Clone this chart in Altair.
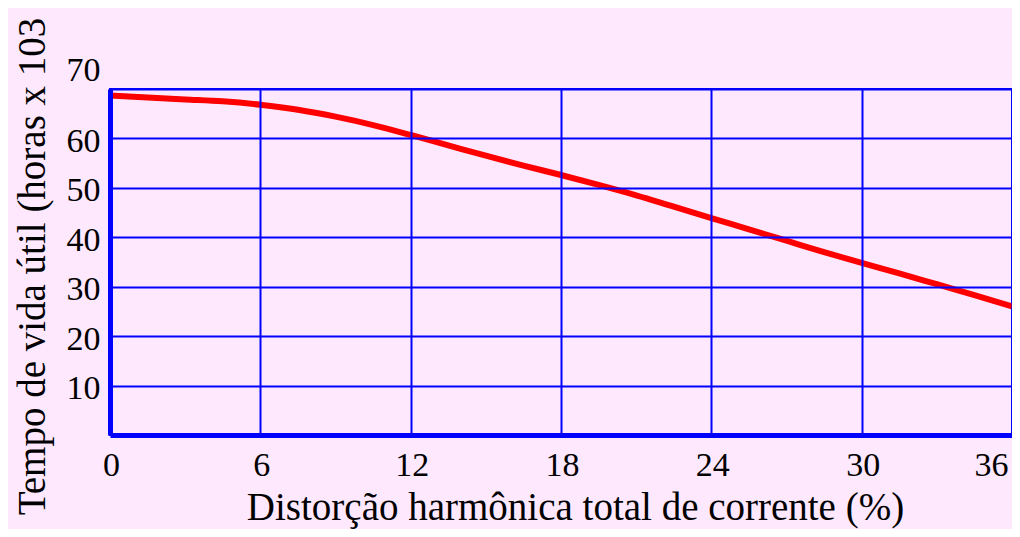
import altair as alt
import pandas as pd

# Distorção harmônica total de corrente (%)
thd = [0, 1.5, 3, 4.5, 6, 7.5, 9, 10.5, 12, 13.5, 15, 16.5, 18, 19.5, 21,
       22.5, 24, 25.5, 27, 28.5, 30, 31.5, 33, 34.5, 36]
# Tempo de vida útil (horas x 10^3)
vida = [68.7, 68.3, 67.9, 67.5, 66.8, 65.8, 64.4, 62.7, 60.7, 58.6, 56.5,
        54.5, 52.6, 50.6, 48.5, 46.2, 43.9, 41.6, 39.3, 37.0, 34.8, 32.7,
        30.5, 28.3, 26.0]

x_ticks = [0, 6, 12, 18, 24, 30, 36]
y_ticks = [10, 20, 30, 40, 50, 60, 70]

x_title = "Distorção harmônica total de corrente (%)"
y_title = "Tempo de vida útil (horas x 103"

df = pd.DataFrame({"thd": thd, "vida": vida})

BLUE = "#0000FF"
FONT = "Liberation Serif"

chart = alt.Chart(df).mark_line(
    color="#FF0000", strokeWidth=6, interpolate="monotone"
).encode(
    x=alt.X(
        "thd:Q",
        scale=alt.Scale(domain=[0, 36], nice=False, zero=False),
        axis=alt.Axis(
            values=x_ticks,
            title=x_title,
            titleFont=FONT,
            titleFontSize=39,
            titleFontWeight="normal",
            titleColor="#000000",
            titleX=465,
            titleY=84,
            titleAlign="center",
            titleBaseline="alphabetic",
            labelFont=FONT,
            labelFontSize=34,
            labelColor="#000000",
            labelBaseline="middle",
            labelPadding=30,
            labelFlush=False,
            labelOverlap=False,
            labelOffset={"condition": {"test": "datum.value == 36", "value": -21}, "value": 1},
            ticks=False,
            tickSize=0,
            domainColor=BLUE,
            domainWidth=5,
            grid=True,
            gridColor=BLUE,
            gridWidth=2,
            gridOpacity=1,
            zindex=1,
        ),
    ),
    y=alt.Y(
        "vida:Q",
        scale=alt.Scale(domain=[0, 70], nice=False),
        axis=alt.Axis(
            values=y_ticks,
            title=y_title,
            titleFont=FONT,
            titleFontSize=39,
            titleFontWeight="normal",
            titleColor="#000000",
            titleAngle=270,
            titleX=-66,
            titleY=177,
            titleAlign="center",
            titleBaseline="alphabetic",
            labelFont=FONT,
            labelFontSize=34,
            labelColor="#000000",
            labelBaseline="middle",
            labelPadding=10,
            labelFlush=False,
            labelOverlap=False,
            labelOffset={"condition": {"test": "datum.value == 70", "value": -19}, "value": 3},
            ticks=False,
            tickSize=0,
            domainColor=BLUE,
            domainWidth=5,
            grid=True,
            gridColor=BLUE,
            gridWidth=2,
            gridOpacity=1,
            zindex=1,
        ),
    ),
).properties(
    width=902,
    height=346,
    autosize="none",
    padding={"left": 102, "top": 81, "right": 0, "bottom": 94},
    background="#FEE8FE",
).configure_view(
    stroke=BLUE,
    strokeWidth=2,
    fill="#FEE8FE",
)

chart.save("out.html", embed_options={"renderer": "svg", "actions": False})
